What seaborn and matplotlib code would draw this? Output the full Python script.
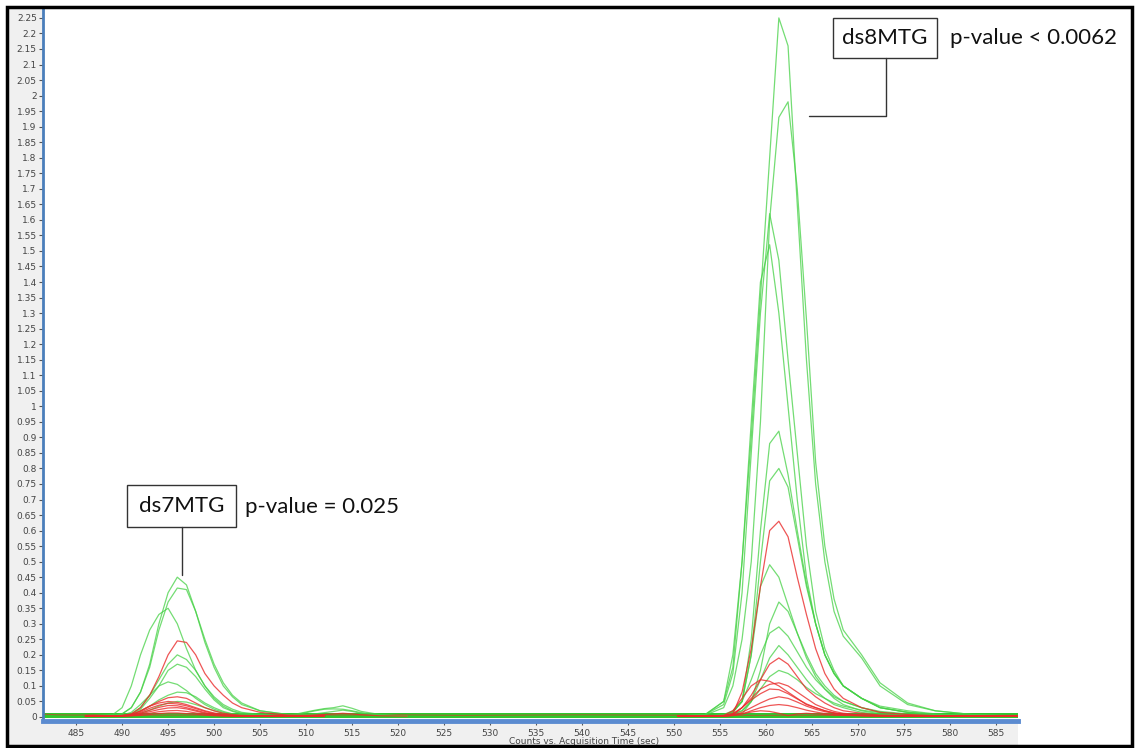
import numpy as np
import pandas as pd
import seaborn as sns
import matplotlib
matplotlib.use("Agg")
import matplotlib.pyplot as plt
from matplotlib.patches import Rectangle
from matplotlib.lines import Line2D

# ---------------- data ----------------
# ds7MTG peak region (time grid, sec)
t7 = [486, 489, 490, 491, 492, 493, 494, 495, 496, 497, 498, 499, 500, 501, 502, 503, 505, 508, 512]
g7_1 = [0.003, 0.005, 0.01, 0.03, 0.08, 0.17, 0.30, 0.40, 0.45, 0.425, 0.34, 0.24, 0.16, 0.10, 0.065, 0.04, 0.02, 0.008, 0.003]
g7_2 = [0.003, 0.005, 0.01, 0.03, 0.08, 0.16, 0.28, 0.37, 0.415, 0.41, 0.34, 0.25, 0.17, 0.11, 0.07, 0.045, 0.02, 0.008, 0.003]
g7_3 = [0.003, 0.008, 0.03, 0.10, 0.20, 0.28, 0.33, 0.35, 0.30, 0.22, 0.15, 0.10, 0.065, 0.04, 0.025, 0.015, 0.008, 0.004, 0.003]
g7_4 = [0.003, 0.003, 0.005, 0.01, 0.03, 0.07, 0.12, 0.17, 0.20, 0.185, 0.15, 0.10, 0.06, 0.035, 0.02, 0.012, 0.006, 0.003, 0.003]
g7_5 = [0.003, 0.003, 0.005, 0.01, 0.025, 0.06, 0.10, 0.15, 0.17, 0.16, 0.13, 0.09, 0.055, 0.03, 0.018, 0.01, 0.005, 0.003, 0.003]
g7_6 = [0.003, 0.003, 0.006, 0.015, 0.04, 0.07, 0.10, 0.113, 0.105, 0.085, 0.06, 0.04, 0.025, 0.015, 0.01, 0.006, 0.004, 0.003, 0.003]
g7_7 = [0.003, 0.003, 0.004, 0.008, 0.02, 0.035, 0.055, 0.07, 0.08, 0.078, 0.065, 0.045, 0.03, 0.018, 0.01, 0.006, 0.004, 0.003, 0.003]
g7_8 = [0.003, 0.003, 0.004, 0.006, 0.012, 0.022, 0.035, 0.045, 0.05, 0.048, 0.04, 0.03, 0.02, 0.012, 0.008, 0.005, 0.003, 0.003, 0.003]
r7_1 = [0.003, 0.003, 0.005, 0.01, 0.03, 0.07, 0.13, 0.20, 0.245, 0.24, 0.20, 0.14, 0.10, 0.07, 0.045, 0.03, 0.015, 0.006, 0.003]
r7_2 = [0.003, 0.003, 0.004, 0.008, 0.018, 0.035, 0.05, 0.062, 0.065, 0.06, 0.045, 0.03, 0.02, 0.012, 0.008, 0.005, 0.004, 0.003, 0.003]
r7_3 = [0.003, 0.003, 0.004, 0.008, 0.02, 0.035, 0.045, 0.05, 0.047, 0.04, 0.03, 0.02, 0.013, 0.008, 0.005, 0.004, 0.003, 0.003, 0.003]
r7_4 = [0.003, 0.003, 0.004, 0.006, 0.015, 0.028, 0.038, 0.044, 0.042, 0.036, 0.027, 0.018, 0.011, 0.007, 0.005, 0.004, 0.003, 0.003, 0.003]
r7_5 = [0.003, 0.003, 0.004, 0.006, 0.012, 0.022, 0.031, 0.037, 0.036, 0.03, 0.022, 0.014, 0.009, 0.006, 0.004, 0.003, 0.003, 0.003, 0.003]
r7_6 = [0.003, 0.003, 0.003, 0.005, 0.01, 0.017, 0.024, 0.029, 0.03, 0.026, 0.019, 0.012, 0.008, 0.005, 0.004, 0.003, 0.003, 0.003, 0.003]
r7_7 = [0.003, 0.003, 0.003, 0.004, 0.008, 0.012, 0.017, 0.02, 0.021, 0.018, 0.013, 0.009, 0.006, 0.004, 0.003, 0.003, 0.003, 0.003, 0.003]
r7_8 = [0.003, 0.003, 0.003, 0.004, 0.005, 0.008, 0.011, 0.013, 0.013, 0.011, 0.009, 0.006, 0.004, 0.003, 0.003, 0.003, 0.003, 0.003, 0.003]

# small bump near 514 s
t14 = [507, 509, 511, 512, 513, 514, 515, 516, 518, 521]
b14_g1 = [0.003, 0.01, 0.022, 0.027, 0.03, 0.036, 0.028, 0.018, 0.008, 0.003]
b14_g2 = [0.003, 0.008, 0.02, 0.025, 0.026, 0.025, 0.02, 0.014, 0.006, 0.003]
b14_g3 = [0.003, 0.005, 0.01, 0.014, 0.018, 0.022, 0.018, 0.012, 0.006, 0.003]
b14_r1 = [0.003, 0.004, 0.006, 0.008, 0.01, 0.012, 0.01, 0.007, 0.004, 0.003]

# ds8MTG peak region
t8 = [550.4, 553.4, 555.4, 556.4, 557.4, 558.4, 559.4, 560.4, 561.4, 562.4, 563.4, 564.4,
      565.4, 566.4, 567.4, 568.4, 570.4, 572.4, 575.4, 578.4, 582.4, 587.4]
g8_1 = [0.003, 0.008, 0.05, 0.20, 0.50, 0.90, 1.35, 1.80, 2.25, 2.16, 1.65, 1.15, 0.75, 0.50, 0.34, 0.26, 0.19, 0.10, 0.04, 0.02, 0.008, 0.003]
g8_2 = [0.003, 0.006, 0.03, 0.10, 0.25, 0.50, 0.95, 1.60, 1.93, 1.98, 1.70, 1.28, 0.82, 0.55, 0.38, 0.28, 0.20, 0.11, 0.045, 0.02, 0.008, 0.003]
g8_3 = [0.003, 0.008, 0.04, 0.14, 0.40, 0.85, 1.30, 1.62, 1.47, 1.15, 0.85, 0.55, 0.34, 0.22, 0.15, 0.10, 0.06, 0.035, 0.02, 0.01, 0.005, 0.003]
g8_4 = [0.003, 0.008, 0.05, 0.16, 0.50, 0.95, 1.40, 1.52, 1.30, 1.00, 0.70, 0.45, 0.30, 0.20, 0.14, 0.10, 0.06, 0.03, 0.015, 0.008, 0.004, 0.003]
g8_5 = [0.003, 0.003, 0.008, 0.02, 0.05, 0.25, 0.60, 0.88, 0.92, 0.78, 0.60, 0.43, 0.30, 0.20, 0.14, 0.10, 0.06, 0.03, 0.015, 0.008, 0.004, 0.003]
g8_6 = [0.003, 0.003, 0.006, 0.018, 0.05, 0.20, 0.50, 0.76, 0.80, 0.74, 0.58, 0.42, 0.30, 0.20, 0.14, 0.10, 0.06, 0.03, 0.015, 0.008, 0.004, 0.003]
g8_7 = [0.003, 0.003, 0.006, 0.015, 0.05, 0.20, 0.42, 0.49, 0.45, 0.36, 0.27, 0.19, 0.13, 0.09, 0.06, 0.04, 0.02, 0.01, 0.006, 0.004, 0.003, 0.003]
g8_8 = [0.003, 0.003, 0.004, 0.01, 0.02, 0.05, 0.15, 0.30, 0.37, 0.34, 0.27, 0.20, 0.14, 0.10, 0.07, 0.05, 0.03, 0.015, 0.008, 0.005, 0.003, 0.003]
g8_9 = [0.003, 0.003, 0.005, 0.015, 0.05, 0.12, 0.20, 0.27, 0.29, 0.26, 0.21, 0.16, 0.12, 0.09, 0.065, 0.05, 0.03, 0.018, 0.01, 0.005, 0.003, 0.003]
g8_10 = [0.003, 0.003, 0.004, 0.008, 0.01, 0.05, 0.12, 0.19, 0.23, 0.20, 0.16, 0.12, 0.085, 0.06, 0.04, 0.03, 0.015, 0.008, 0.005, 0.004, 0.003, 0.003]
g8_11 = [0.003, 0.003, 0.004, 0.008, 0.02, 0.05, 0.09, 0.13, 0.15, 0.14, 0.12, 0.095, 0.075, 0.06, 0.045, 0.035, 0.022, 0.014, 0.008, 0.005, 0.003, 0.003]
r8_1 = [0.003, 0.003, 0.003, 0.01, 0.08, 0.22, 0.42, 0.60, 0.63, 0.58, 0.45, 0.33, 0.22, 0.14, 0.09, 0.06, 0.03, 0.015, 0.008, 0.004, 0.003, 0.003]
r8_2 = [0.003, 0.003, 0.003, 0.005, 0.03, 0.07, 0.12, 0.17, 0.19, 0.17, 0.13, 0.09, 0.065, 0.045, 0.03, 0.02, 0.012, 0.006, 0.004, 0.003, 0.003, 0.003]
r8_3 = [0.003, 0.003, 0.005, 0.02, 0.06, 0.10, 0.12, 0.115, 0.10, 0.08, 0.06, 0.04, 0.03, 0.02, 0.013, 0.009, 0.005, 0.004, 0.003, 0.003, 0.003, 0.003]
r8_4 = [0.003, 0.003, 0.004, 0.01, 0.03, 0.06, 0.09, 0.105, 0.11, 0.10, 0.08, 0.06, 0.04, 0.028, 0.018, 0.012, 0.007, 0.004, 0.003, 0.003, 0.003, 0.003]
r8_5 = [0.003, 0.003, 0.004, 0.01, 0.03, 0.055, 0.075, 0.09, 0.088, 0.075, 0.058, 0.042, 0.03, 0.02, 0.013, 0.009, 0.005, 0.004, 0.003, 0.003, 0.003, 0.003]
r8_6 = [0.003, 0.003, 0.003, 0.006, 0.015, 0.03, 0.045, 0.058, 0.065, 0.06, 0.048, 0.035, 0.025, 0.017, 0.012, 0.008, 0.005, 0.004, 0.003, 0.003, 0.003, 0.003]
r8_7 = [0.003, 0.003, 0.003, 0.005, 0.01, 0.02, 0.03, 0.037, 0.04, 0.037, 0.03, 0.022, 0.016, 0.011, 0.008, 0.006, 0.004, 0.003, 0.003, 0.003, 0.003, 0.003]
r8_8 = [0.003, 0.003, 0.003, 0.005, 0.01, 0.016, 0.02, 0.018, 0.012, 0.004, 0.01, 0.012, 0.01, 0.008, 0.006, 0.005, 0.004, 0.003, 0.003, 0.003, 0.003, 0.003]

# baseline (thick green band with a little red noise)
base_t = [481.4, 587.4]
base_g = [0.005, 0.005]
noise_t = [481.4, 483.0, 485.0, 487.0, 489.0, 491.0, 505.0, 520.0, 527.0, 540.0, 547.0, 555.0, 575.0, 587.4]
noise_r = [0.009, 0.007, 0.006, 0.007, 0.005, 0.006, 0.006, 0.007, 0.005, 0.007, 0.006, 0.005, 0.006, 0.005]

y_ticks = [round(0.05 * i, 2) for i in range(46)]
x_ticks = list(range(485, 590, 5))

GREEN = "#45d145"
RED = "#ea2b2b"

# ---------------- build long table ----------------
groups = [
    (t7, {"g7_1": g7_1, "g7_2": g7_2, "g7_3": g7_3, "g7_4": g7_4, "g7_5": g7_5, "g7_6": g7_6,
          "g7_7": g7_7, "g7_8": g7_8}, GREEN),
    (t14, {"b14_g1": b14_g1, "b14_g2": b14_g2, "b14_g3": b14_g3}, GREEN),
    (t8, {"g8_1": g8_1, "g8_2": g8_2, "g8_3": g8_3, "g8_4": g8_4, "g8_5": g8_5, "g8_6": g8_6,
          "g8_7": g8_7, "g8_8": g8_8, "g8_9": g8_9, "g8_10": g8_10, "g8_11": g8_11}, GREEN),
    (t7, {"r7_1": r7_1, "r7_2": r7_2, "r7_3": r7_3, "r7_4": r7_4, "r7_5": r7_5, "r7_6": r7_6,
          "r7_7": r7_7, "r7_8": r7_8}, RED),
    (t14, {"b14_r1": b14_r1}, RED),
    (t8, {"r8_1": r8_1, "r8_2": r8_2, "r8_3": r8_3, "r8_4": r8_4, "r8_5": r8_5, "r8_6": r8_6,
          "r8_7": r8_7, "r8_8": r8_8}, RED),
]
rows = []
palette = {}
for tt, traces, col in groups:
    for name, vals in traces.items():
        palette[name] = col
        for a, b in zip(tt, vals):
            rows.append((name, a, b))
df = pd.DataFrame(rows, columns=["trace", "t", "v"])
green_df = df[df["trace"].map(palette) == GREEN]
red_df = df[df["trace"].map(palette) == RED]

# ---------------- figure ----------------
sns.set_style("white")
plt.rcParams["font.family"] = ["DejaVu Sans"]
W, H = 1135, 748
fig = plt.figure(figsize=(W / 100, H / 100), dpi=100)


def fx(x):
    return x / W


def fy(y):
    return 1 - y / H


# gray chart-control background
fig.patches.append(Rectangle((fx(9), fy(745)), fx(1018 - 9), (745 - 9) / H, transform=fig.transFigure,
                             facecolor="#f0f0f0", edgecolor="none", zorder=-2))
# outer black frame
fig.patches.append(Rectangle((fx(7), fy(746)), fx(1132 - 7), (746 - 7) / H, transform=fig.transFigure,
                             facecolor="none", edgecolor="black", linewidth=2.5, zorder=5))

ax = fig.add_axes([fx(43), fy(721), fx(1018 - 43), (721 - 9) / H])
ax.set_zorder(1)
ax.set_facecolor("white")

# baseline band
sns.lineplot(x=base_t, y=base_g, ax=ax, color="#2ec82e", linewidth=3.6, legend=False, zorder=2)
sns.lineplot(x=noise_t, y=noise_r, ax=ax, color=RED, linewidth=0.8, alpha=0.6, legend=False, zorder=2)

sns.lineplot(data=green_df, x="t", y="v", units="trace", estimator=None, hue="trace",
             palette={k: v for k, v in palette.items() if v == GREEN}, linewidth=0.9, alpha=0.75,
             legend=False, ax=ax, sort=False, zorder=3)
sns.lineplot(data=red_df, x="t", y="v", units="trace", estimator=None, hue="trace",
             palette={k: v for k, v in palette.items() if v == RED}, linewidth=0.9, alpha=0.8,
             legend=False, ax=ax, sort=False, zorder=4)

ax.set_xlim(481.4, 587.4)
ax.set_ylim(-0.0129, 2.2787)
ax.set_yticks(y_ticks)
ax.set_yticklabels([f"{v:g}" for v in y_ticks])
ax.set_xticks(x_ticks)
ax.set_xticklabels([str(v) for v in x_ticks])
ax.tick_params(axis="both", which="major", labelsize=6.5, labelcolor="#444444", color="#555555",
               length=3, width=0.8, direction="out", pad=1.5)
ax.tick_params(axis="x", pad=3)
ax.tick_params(axis="y", left=True)
ax.tick_params(axis="x", bottom=True)
ax.set_xlabel("")
ax.set_ylabel("")
for s in ["top", "right"]:
    ax.spines[s].set_visible(False)
ax.spines["left"].set_color("#4a7ebb")
ax.spines["left"].set_linewidth(2.0)
ax.spines["bottom"].set_color("#5b8bd0")
ax.spines["bottom"].set_linewidth(3.5)

fig.text(fx(584), fy(742), "Counts vs. Acquisition Time (sec)", fontsize=6.5, color="#444444",
         ha="center", va="center", zorder=3)

# annotations
ann_font = ["Lato", "DejaVu Sans"]


def box(x0, y0, x1, y1, label):
    fig.patches.append(Rectangle((fx(x0), fy(y1)), fx(x1 - x0), (y1 - y0) / H, transform=fig.transFigure,
                                 facecolor="white", edgecolor="#333333", linewidth=1.0, zorder=6))
    fig.text(fx((x0 + x1) / 2), fy((y0 + y1) / 2), label, fontsize=16, family=ann_font,
             ha="center", va="center", color="#111111", zorder=7)


box(127, 485, 236, 527, "ds7MTG")
fig.text(fx(245), fy(507), "p-value = 0.025", fontsize=16, family=ann_font, ha="left", va="center",
         color="#111111", zorder=7)
fig.add_artist(Line2D([fx(182), fx(182)], [fy(527), fy(575)], color="#333333", linewidth=1.0, zorder=7))

box(833, 18, 937, 58, "ds8MTG")
fig.text(fx(950), fy(38), "p-value < 0.0062", fontsize=16, family=ann_font, ha="left", va="center",
         color="#111111", zorder=7)
fig.add_artist(Line2D([fx(886), fx(886), fx(809)], [fy(58), fy(116), fy(116)], color="#333333",
                      linewidth=1.0, zorder=7))

fig.savefig("out.png", dpi=100)
